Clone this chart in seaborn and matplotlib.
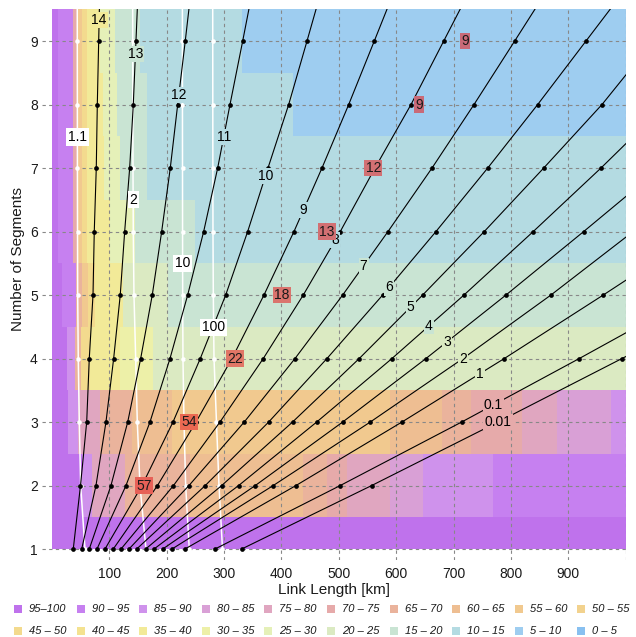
import numpy as np
import matplotlib
matplotlib.use("Agg")
import matplotlib.pyplot as plt
import seaborn as sns
from matplotlib.colors import ListedColormap, to_rgb
from matplotlib.patches import Rectangle

# ---------------- data ----------------
class_labels = ["0 – 5", "5 – 10", "10 – 15", "15 – 20", "20 – 25", "25 – 30", "30 – 35",
                "35 – 40", "40 – 45", "45 – 50", "50 – 55", "55 – 60", "60 – 65", "65 – 70",
                "70 – 75", "75 – 80", "80 – 85", "85 – 90", "90 – 95", "95–100"]
class_colors = ["#88c0f0", "#9ecdf0", "#b4dbe2", "#c9e4d3", "#dbeac2", "#e5f0b8", "#edf0a8",
                "#f2ea98", "#f4e290", "#f3da8e", "#f2d28e", "#f1c98f", "#eebe92", "#eab39c",
                "#e6aaaa", "#e0a6c0", "#d9a0d6", "#cf92ec", "#c680f0", "#bf72ec"]

# background bands: break points [km] and class index per segment row
seg1_breaks = [0]
seg1_classes = [19]
seg2_breaks = [0, 52, 70, 127, 240, 437, 480, 514, 589, 647, 769]
seg2_classes = [19, 17, 15, 13, 12, 13, 14, 15, 16, 17, 18]
seg3_breaks = [0, 28, 45, 83, 140, 210, 590, 680, 730, 820, 880, 974]
seg3_classes = [19, 17, 15, 13, 12, 11, 12, 13, 14, 15, 16, 17]
seg4_breaks = [0, 27, 40, 50, 66, 118, 176]
seg4_classes = [19, 17, 13, 9, 7, 6, 4]
seg5_breaks = [0, 18, 42, 52, 62, 75, 124, 202]
seg5_classes = [19, 18, 13, 11, 9, 7, 4, 3]
seg6_breaks = [0, 10, 37, 44, 52, 61, 101, 145, 249]
seg6_classes = [19, 18, 14, 11, 9, 7, 5, 3, 2]
seg7_breaks = [0, 10, 37, 44, 52, 61, 90, 118, 166]
seg7_classes = [19, 18, 14, 11, 9, 7, 5, 3, 2]
seg8_breaks = [0, 10, 37, 44, 52, 61, 89, 113, 166, 420]
seg8_classes = [19, 18, 14, 11, 9, 7, 5, 3, 2, 1]
seg9_breaks = [0, 10, 37, 44, 52, 61, 84, 110, 153, 331]
seg9_classes = [19, 18, 14, 11, 9, 7, 5, 3, 2, 1]

# black iso-lines: link length [km] at segments 1, 2, 3, ...
black_names = ["14", "13", "12", "11", "10", "9", "8", "7", "6", "5", "4", "3", "2", "1", "0.1", "0.01"]
b14 = [37.1, 49.7, 60.5, 65.0, 71.5, 73.7, 77.2, 79.0, 81.4, 83.8]
b13 = [51.8, 76.7, 94.1, 107.5, 119.0, 126.7, 135.4, 141.7, 146.4, 151]
b12 = [65.0, 102.8, 132.0, 154.6, 174.8, 191.2, 206.2, 219.1, 232.3, 245]
b11 = [78.4, 129.0, 170.8, 205.7, 236.5, 264.4, 288.8, 310.3, 332.4, 354]
b10 = [92.4, 156.9, 210.9, 258.5, 302.8, 341.1, 376.5, 412.6, 444.5, 476]
b9 = [106.8, 183.9, 251.0, 313.7, 369.5, 421.8, 470.6, 517.2, 561.8, 606]
b8 = [120.3, 211.8, 292.8, 368.3, 438.0, 502.5, 563.0, 625.8, 682.8, 740]
b7 = [134.2, 238.8, 335.1, 423.6, 506.7, 585.7, 662.4, 735.6, 806.5, 877]
b6 = [147.6, 267.2, 377.7, 479.3, 576.4, 669.3, 759.5, 846.6, 930.8, 1015]
b5 = [163.3, 295.8, 419.3, 535.6, 646.1, 753.5, 857.1, 958.7, 1048]
b4 = [177.8, 325.4, 461.4, 592.6, 718.1, 838.9, 956.9, 1070]
b3 = [193.0, 354.4, 506.7, 651.9, 791.3, 926.8, 1060]
b2 = [209.2, 385.7, 554.8, 716.4, 869.7, 1013]
b1 = [231.8, 425.3, 610.0, 788.4, 960.9, 1130]
b01 = [284.1, 502.5, 714.1, 919.1, 1120]
b001 = [330.6, 557.3, 777.4, 993.5, 1210]
black_label_seg = [9.33, 8.80, 8.15, 7.49, 6.87, 6.34, 5.87, 5.46, 5.12, 4.81, 4.51, 4.26, 4.00, 3.76, 3.27, 3.00]

# white iso-lines
white_names = ["1.1", "2", "10", "100"]
w11 = [57.5, 50.0, 47.6, 45.8, 44.8, 44.5, 44.3, 44.2, 44.1, 44.0]
w2 = [163.8, 153.4, 148.7, 145.9, 142.9, 141.7, 141.2, 140.8, 140.7, 140.6]
w10 = [239.3, 233.0, 230.1, 228.3, 227.8, 227.6, 227.5, 227.4, 227.3, 227.3]
w100 = [297.2, 291.1, 286.7, 282.4, 281.2, 280.6, 280.4, 280.3, 280.2, 280.1]
white_label_seg = [7.49, 6.50, 5.50, 4.49]

# red markers
red_values = ["57", "54", "22", "18", "13", "12", "9", "9"]
red_km = [160.4, 239.3, 319.0, 400.4, 479.3, 560.0, 639.2, 719.9]
red_seg = [2, 3, 4, 5, 6, 7, 8, 9]

# ---------------- figure ----------------
sns.set_theme(style="white")
plt.rcParams["font.family"] = ["Liberation Sans", "DejaVu Sans"]

W, H = 636, 637
fig = plt.figure(figsize=(W / 100, H / 100), dpi=100)
ax = fig.add_axes([42 / W, 1 - 560 / H, (626 - 42) / W, (560 - 9) / H])

rows_b = [seg1_breaks, seg2_breaks, seg3_breaks, seg4_breaks, seg5_breaks,
          seg6_breaks, seg7_breaks, seg8_breaks, seg9_breaks]
rows_c = [seg1_classes, seg2_classes, seg3_classes, seg4_classes, seg5_classes,
          seg6_classes, seg7_classes, seg8_classes, seg9_classes]


def cell_class(seg, km):
    r = int(np.clip(np.floor(seg + 0.5), 1, 9)) - 1
    i = np.searchsorted(rows_b[r], km, side="right") - 1
    return rows_c[r][max(i, 0)]


x_edges = np.arange(0, 1001, 1.0)
x_cent = 0.5 * (x_edges[:-1] + x_edges[1:])
y_edges = np.array([1.0] + [s + 0.5 for s in range(1, 10)])
Z = np.array([[cell_class(s, k) for k in x_cent] for s in range(1, 10)])
cmap = ListedColormap(class_colors)
ax.pcolormesh(x_edges, y_edges, Z, cmap=cmap, vmin=-0.5, vmax=19.5,
              shading="flat", zorder=1, antialiased=False, linewidth=0)

# white lines
white_sets = [w11, w2, w10, w100]
for name, vals in zip(white_names, white_sets):
    segs = np.arange(1, len(vals) + 1)
    sns.lineplot(x=vals, y=segs, ax=ax, sort=False, estimator=None, color="white",
                 lw=1.1, marker="o", markersize=3.3, markeredgewidth=0, zorder=2, legend=False)

# black lines
black_sets = [b14, b13, b12, b11, b10, b9, b8, b7, b6, b5, b4, b3, b2, b1, b01, b001]
for name, vals in zip(black_names, black_sets):
    segs = np.arange(1, len(vals) + 1)
    sns.lineplot(x=vals, y=segs, ax=ax, sort=False, estimator=None, color="black",
                 lw=0.8, marker="o", markersize=3.4, markeredgewidth=0, zorder=3, legend=False)

# black labels
for name, vals, s in zip(black_names, black_sets, black_label_seg):
    segs = np.arange(1, len(vals) + 1)
    k = np.interp(s, segs, vals)
    fc = class_colors[cell_class(s, k)]
    ax.text(k, s, name, ha="center", va="center", fontsize=10, color="black", zorder=4,
            bbox=dict(boxstyle="square,pad=0.08", fc=fc, ec="none"))

# white labels
for name, vals, s in zip(white_names, white_sets, white_label_seg):
    segs = np.arange(1, len(vals) + 1)
    k = np.interp(s, segs, vals)
    ax.text(k, s, name, ha="center", va="center", fontsize=10, color="black", zorder=4,
            bbox=dict(boxstyle="square,pad=0.12", fc="white", ec="none"))

# red boxes
red = np.array([0.9, 0.16, 0.16])
for v, k, s in zip(red_values, red_km, red_seg):
    base = np.array(to_rgb(class_colors[cell_class(s, k)]))
    fc = 0.6 * red + 0.4 * base
    ax.text(k, s, v, ha="center", va="center", fontsize=10, color="#1a1a1a", zorder=5,
            bbox=dict(boxstyle="square,pad=0.1", fc=tuple(fc), ec="none"))

# axes styling
ax.set_xlim(-17.4, 1000.5)
ax.set_ylim(0.827, 9.504)
ax.set_xticks(range(100, 1001, 100))
ax.set_xticklabels([str(v) for v in range(100, 1000, 100)] + [""])
ax.set_yticks(range(1, 10))
ax.set_yticklabels([str(v) for v in range(1, 10)])
ax.tick_params(length=0, labelsize=10, colors="#1a1a1a")
ax.tick_params(axis="x", pad=5)
ax.tick_params(axis="y", pad=3)
ax.set_axisbelow("line")
ax.grid(True, color="#888888", linestyle=(0, (3, 3)), linewidth=0.8)
for sp in ax.spines.values():
    sp.set_visible(False)
ax.set_xlabel("")
ax.set_ylabel("")
ax.set_facecolor("white")

fig.text(334 / W, 1 - 590 / H, "Link Length [km]", ha="center", va="center",
         fontsize=11, color="#1a1a1a")
fig.text(18.5 / W, 1 - 259 / H, "Number of Segments", ha="center", va="center",
         rotation=90, fontsize=11, color="#1a1a1a")

# legend (two rows, high to low)
for i in range(20):
    cls = 19 - i
    row, col = divmod(i, 10)
    cx = 18 + 62.6 * col
    cy = 608.5 if row == 0 else 631
    fig.patches.append(Rectangle(((cx - 4) / W, 1 - (cy + 4) / H), 8 / W, 8 / H,
                                 transform=fig.transFigure, facecolor=class_colors[cls],
                                 edgecolor="none"))
    fig.text((cx + 11) / W, 1 - cy / H, class_labels[cls], ha="left", va="center",
             fontsize=8, style="italic", color="#1a1a1a")

fig.savefig("out.png", dpi=100)
